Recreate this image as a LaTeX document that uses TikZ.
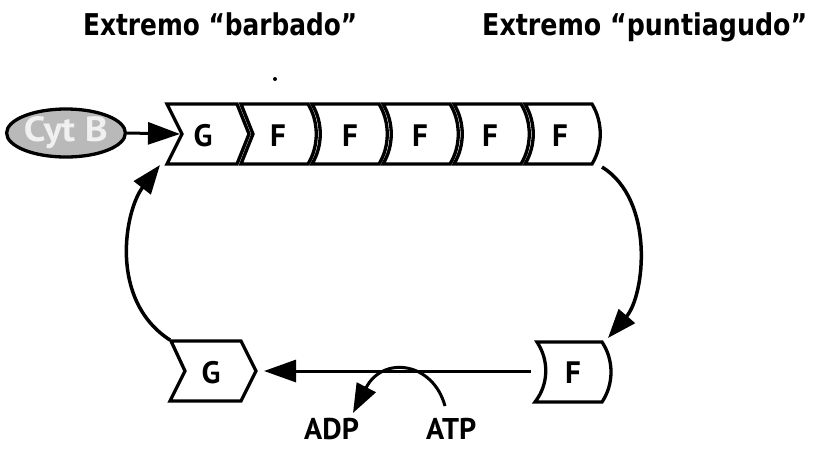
\documentclass[tikz,border=0pt]{standalone}
\usepackage{fontspec}
\setmainfont{PT Sans}
\newfontfamily\titlefont{DejaVu Sans}
\usetikzlibrary{arrows.meta,shapes.geometric}
\tikzset{
  unitshape/.style={draw=black, line width=3.3pt, fill=white},
  lbl/.style={font=\bfseries\fontsize{31}{31}\selectfont, inner sep=0pt},
  arr/.style={line width=3pt, -{Triangle[length=32pt,width=22pt]}},
  arcarr/.style={line width=3.5pt, -{Triangle[length=29pt,width=21pt]}},
}
\begin{document}
\begin{tikzpicture}[x=1pt,y=-1pt]
\useasboundingbox (0,0) rectangle (813,448);
% titles
\node[anchor=base west, inner sep=0pt] (t1) at (83,35)
  {\resizebox{274pt}{\height}{\titlefont\bfseries\fontsize{30}{30}\selectfont Extremo “barbado”}};
\node[anchor=base west, inner sep=0pt] (t2) at (482,35)
  {\resizebox{325pt}{\height}{\titlefont\bfseries\fontsize{30}{30}\selectfont Extremo “puntiagudo”}};
\fill (275,79) circle (2);
% Cyt B
\node[ellipse, draw=black, line width=3.3pt, fill=gray!55, minimum width=105pt,
      minimum height=48pt, inner sep=0pt, text=gray!12] (cyt) at (66,133)
  {\resizebox{84pt}{\height}{\bfseries\fontsize{35}{35}\selectfont Cyt B}};
% top filament: G unit
\draw[unitshape] (167,104) -- (182,134) -- (167,164) -- (237,164) -- (249,134) -- (237,104) -- cycle;
\coordinate (gnotch) at (180,134);
\node[lbl] (g1) at (203,136) {G};
% F1
\draw[unitshape] (241,104) -- (253,134) -- (241,164) -- (308,164)
  .. controls (319,146) and (319,122) .. (308,104) -- cycle;
\node[lbl] (f1) at (278,136) {F};
% F2..F5
\foreach \k/\xl/\xr/\xc in {2/312/379/350, 3/383/450/420, 4/454/521/490, 5/525/592/560}{
  \draw[unitshape] (\xl,104) .. controls (\xl+11,122) and (\xl+11,146) .. (\xl,164) -- (\xr,164)
    .. controls (\xr+11,146) and (\xr+11,122) .. (\xr,104) -- cycle;
  \node[lbl] (f\k) at (\xc,136) {F};
}
\draw[arr] (cyt.east) -- (gnotch);
% bottom G
\draw[unitshape] (171,341) -- (185,371) -- (170,401) -- (241,401) -- (256,371) -- (241,341) -- cycle;
\node[lbl] (g2) at (211,373) {G};
\coordinate (gtip) at (264,371);
\coordinate (gtop) at (170,340);
% bottom F
\draw[unitshape] (537,342) .. controls (549,360) and (549,384) .. (535,402) -- (602,402)
  .. controls (614,384) and (614,360) .. (602,342) -- cycle;
\node[lbl] (f6) at (573,373) {F};
\coordinate (fleft) at (531,371);
\coordinate (ftop) at (608,338);
% connectors
\coordinate (fend) at (602,167);
\coordinate (gbot) at (160,165);
\draw[arr] (fleft) -- (gtip);
\draw[arcarr] (fend) .. controls (655,200) and (645,295) .. (ftop);
\draw[arcarr] (gtop) .. controls (108,300) and (125,210) .. (gbot);
% ATP -> ADP
\node[lbl, anchor=base west, font=\bfseries\fontsize{30}{30}\selectfont] (adp) at (304,439) {ADP};
\node[lbl, anchor=base west, font=\bfseries\fontsize{30}{30}\selectfont] (atp) at (426,439) {ATP};
\coordinate (atps) at (445,406);
\coordinate (adpe) at (353,413);
\draw[arcarr, line width=3pt] (atps) .. controls (433,362) and (383,355) .. (adpe);
\end{tikzpicture}
\end{document}
